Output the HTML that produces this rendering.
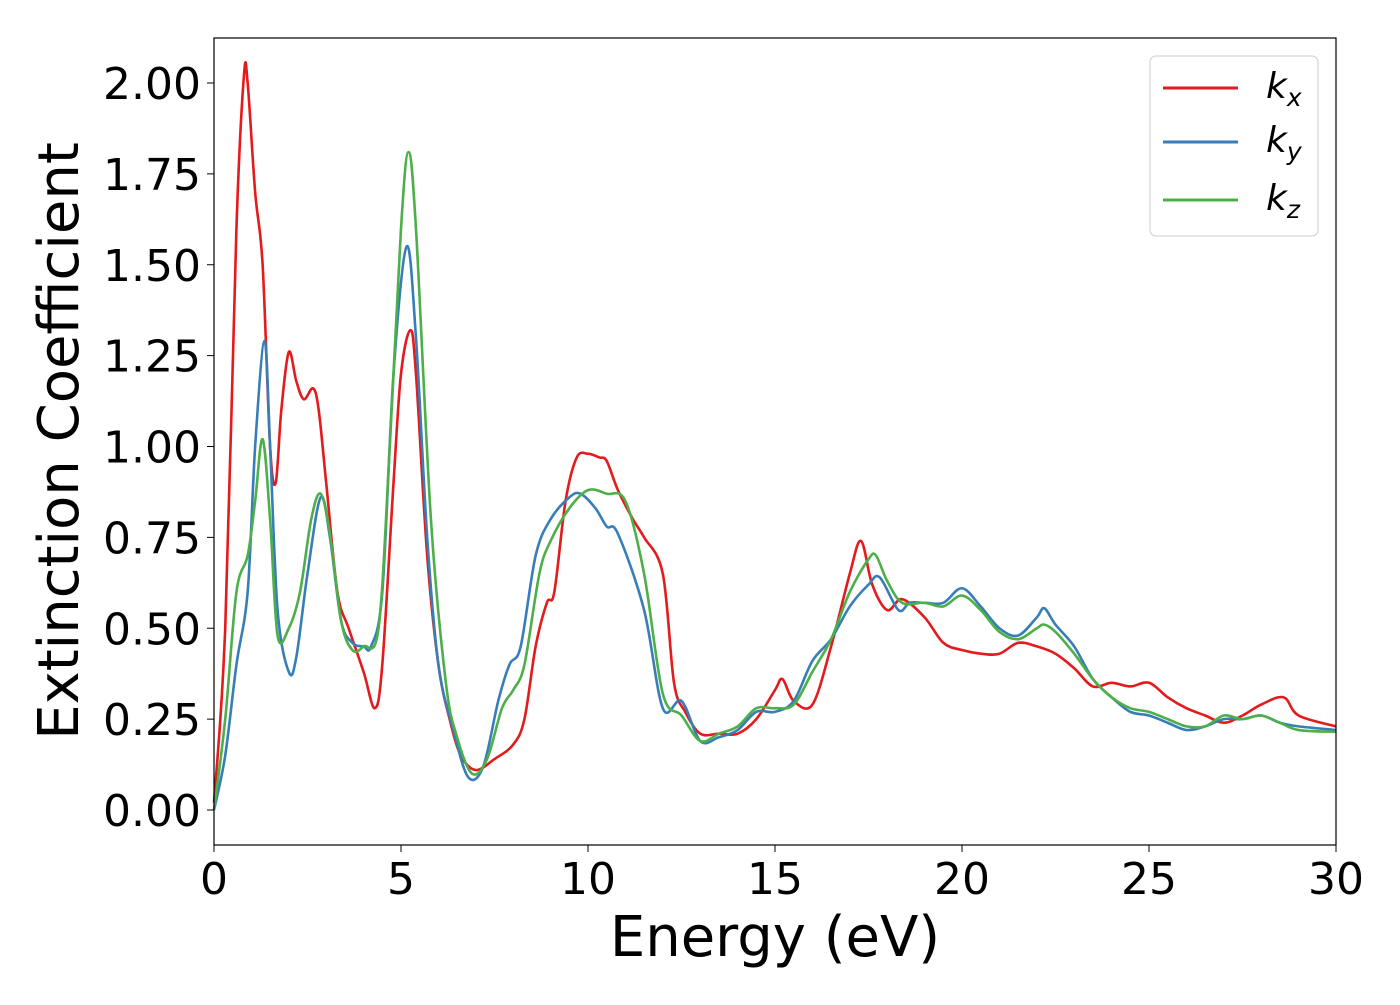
<!DOCTYPE html>
<html><head><meta charset="utf-8"><style>
body{margin:0;background:#fff;}
svg text{font-family:"DejaVu Sans","Liberation Sans",sans-serif;}
</style></head><body>
<svg width="1400" height="1000" viewBox="0 0 1400 1000">
<g id="plot"></g>
<rect x="214" y="38" width="1122" height="807" fill="none" stroke="#000" stroke-width="1.2"/>
<g id="xt"></g>
<g id="yt"></g>
<text x="775" y="956" font-size="56" text-anchor="middle">Energy (eV)</text>
<text transform="translate(78,441) rotate(-90)" font-size="56" text-anchor="middle">Extinction Coefficient</text>
<g>
<rect x="1150" y="56" width="168" height="180" rx="6" fill="#fff" fill-opacity="0.8" stroke="#ccc"/>
<g><line x1="1163" y1="88" x2="1238" y2="88" stroke="#e41a1c" stroke-width="3"/><text x="1266" y="98" font-size="36" font-style="italic">k<tspan font-size="25" dy="8">x</tspan></text></g>
<g><line x1="1163" y1="142" x2="1238" y2="142" stroke="#377eb8" stroke-width="3"/><text x="1266" y="152" font-size="36" font-style="italic">k<tspan font-size="25" dy="8">y</tspan></text></g>
<g><line x1="1163" y1="200" x2="1238" y2="200" stroke="#4daf4a" stroke-width="3"/><text x="1266" y="210" font-size="36" font-style="italic">k<tspan font-size="25" dy="8">z</tspan></text></g>
</g>
</svg>
<script>
const xTicks=[0,5,10,15,20,25,30];
const yTicks=["0.00","0.25","0.50","0.75","1.00","1.25","1.50","1.75","2.00"];
const kxE=[0,0.3,0.6,0.8,0.9,1.1,1.3,1.5,1.65,1.8,2.0,2.2,2.4,2.65,2.8,3.0,3.3,3.6,4.0,4.3,4.5,4.8,5.0,5.25,5.4,5.7,6.0,6.3,6.6,7.0,7.5,8.0,8.3,8.6,8.9,9.1,9.4,9.7,10.0,10.3,10.5,10.8,11.2,11.5,12.0,12.3,12.6,13.0,13.5,14.0,14.5,15.0,15.2,15.5,16.0,16.5,17.0,17.3,17.6,18.0,18.4,19.0,19.5,20.0,20.5,21.0,21.5,22.0,22.5,23.0,23.5,24.0,24.5,25.0,25.5,26.0,26.5,27.0,27.5,28.0,28.6,29.0,30];
const kxV=[0.02,0.5,1.6,2.02,2.0,1.7,1.5,1.0,0.9,1.1,1.26,1.18,1.13,1.16,1.1,0.9,0.6,0.5,0.38,0.28,0.4,0.9,1.2,1.32,1.2,0.7,0.4,0.25,0.15,0.11,0.14,0.18,0.25,0.45,0.57,0.6,0.85,0.97,0.98,0.97,0.96,0.88,0.8,0.75,0.65,0.35,0.27,0.21,0.21,0.21,0.25,0.33,0.36,0.30,0.29,0.45,0.65,0.74,0.62,0.55,0.58,0.53,0.46,0.44,0.43,0.43,0.46,0.45,0.43,0.39,0.34,0.35,0.34,0.35,0.31,0.28,0.26,0.24,0.26,0.29,0.31,0.26,0.23];
const kyE=[0,0.3,0.6,0.9,1.1,1.35,1.5,1.7,2.0,2.2,2.5,2.85,3.1,3.4,3.7,4.0,4.2,4.5,4.8,5.15,5.4,5.7,6.0,6.4,6.8,7.2,7.6,7.9,8.2,8.6,9.0,9.5,9.8,10.2,10.5,10.8,11.5,12.0,12.5,13.0,13.5,14.0,14.5,15.0,15.5,16.0,16.5,17.0,17.5,17.8,18.3,18.6,19.0,19.5,20.0,20.5,21.0,21.5,22.0,22.2,22.5,23.0,23.5,24.0,24.5,25.0,25.5,26.0,26.5,27.0,27.5,28.0,28.5,29.0,30];
const kyV=[0.0,0.15,0.4,0.6,1.0,1.29,1.0,0.55,0.38,0.42,0.65,0.86,0.75,0.52,0.46,0.45,0.45,0.6,1.2,1.55,1.3,0.75,0.4,0.22,0.09,0.12,0.3,0.4,0.45,0.7,0.8,0.86,0.87,0.83,0.78,0.76,0.55,0.28,0.3,0.19,0.2,0.22,0.27,0.27,0.30,0.41,0.47,0.56,0.62,0.64,0.55,0.57,0.57,0.57,0.61,0.56,0.5,0.48,0.53,0.555,0.51,0.45,0.36,0.31,0.27,0.26,0.24,0.22,0.23,0.25,0.25,0.26,0.24,0.23,0.22];
const kzE=[0,0.3,0.6,0.9,1.1,1.3,1.5,1.7,2.0,2.3,2.6,2.85,3.1,3.4,3.7,4.0,4.4,4.7,5.0,5.2,5.4,5.8,6.2,6.5,6.9,7.3,7.7,8.0,8.3,8.7,9.0,9.5,10.0,10.5,11.0,11.5,12.0,12.5,13.0,13.5,14.0,14.5,15.0,15.5,16.0,16.5,17.0,17.5,17.7,18.0,18.4,19.0,19.5,20.0,20.5,21.0,21.5,22.0,22.2,22.5,23.0,23.5,24.0,24.5,25.0,25.5,26.0,26.5,27.0,27.5,28.0,28.5,29.0,30];
const kzV=[0.0,0.25,0.6,0.7,0.85,1.02,0.8,0.48,0.5,0.6,0.8,0.87,0.76,0.52,0.44,0.45,0.5,1.0,1.6,1.81,1.6,0.8,0.35,0.2,0.1,0.14,0.28,0.33,0.4,0.65,0.74,0.83,0.88,0.87,0.85,0.65,0.32,0.26,0.19,0.21,0.23,0.28,0.28,0.29,0.38,0.47,0.6,0.69,0.70,0.63,0.57,0.57,0.56,0.59,0.55,0.49,0.47,0.5,0.51,0.49,0.43,0.36,0.31,0.28,0.27,0.25,0.23,0.23,0.26,0.25,0.26,0.24,0.22,0.215];
const NS="http://www.w3.org/2000/svg";
function X(e){return 214+e*1122/30;}
function Y(v){return 810-v*363.5;}
function path(E,V){
  const p=E.map((e,i)=>[X(e),Y(V[i])]);
  let d="M"+p[0][0]+","+p[0][1];
  for(let i=0;i<p.length-1;i++){
    const a=p[i-1]||p[i],b=p[i],c=p[i+1],n=p[i+2]||c;
    const c1=[b[0]+(c[0]-a[0])/6,b[1]+(c[1]-a[1])/6],c2=[c[0]-(n[0]-b[0])/6,c[1]-(n[1]-b[1])/6];
    d+=" C"+c1+" "+c2+" "+c;
  }
  return d;
}
const plot=document.getElementById('plot');
function addLine(E,V,col,name){
  const el=document.createElementNS(NS,'path');
  el.setAttribute('d',path(E,V));el.setAttribute('fill','none');el.setAttribute('stroke',col);el.setAttribute('stroke-width','2.6');
  
  
  plot.appendChild(el);
}
addLine(kxE,kxV,'#e41a1c','series-kx');
addLine(kyE,kyV,'#377eb8','series-ky');
addLine(kzE,kzV,'#4daf4a','series-kz');
const xt=document.getElementById('xt');
xTicks.forEach(t=>{
  const l=document.createElementNS(NS,'line');
  l.setAttribute('x1',X(t));l.setAttribute('x2',X(t));l.setAttribute('y1',845);l.setAttribute('y2',852);l.setAttribute('stroke','#000');
  
  
  xt.appendChild(l);
  const tx=document.createElementNS(NS,'text');
  tx.setAttribute('x',X(t));tx.setAttribute('y',894);tx.setAttribute('font-size','44');tx.setAttribute('text-anchor','middle');tx.textContent=t;
  
  
  xt.appendChild(tx);
});
const yt=document.getElementById('yt');
yTicks.forEach(t=>{
  const v=parseFloat(t);
  const l=document.createElementNS(NS,'line');
  l.setAttribute('x1',207);l.setAttribute('x2',214);l.setAttribute('y1',Y(v));l.setAttribute('y2',Y(v));l.setAttribute('stroke','#000');
  
  
  yt.appendChild(l);
  const tx=document.createElementNS(NS,'text');
  tx.setAttribute('x',201);tx.setAttribute('y',Y(v)+16);tx.setAttribute('font-size','44');tx.setAttribute('text-anchor','end');tx.textContent=t;
  
  
  yt.appendChild(tx);
});
</script>
</body></html>
